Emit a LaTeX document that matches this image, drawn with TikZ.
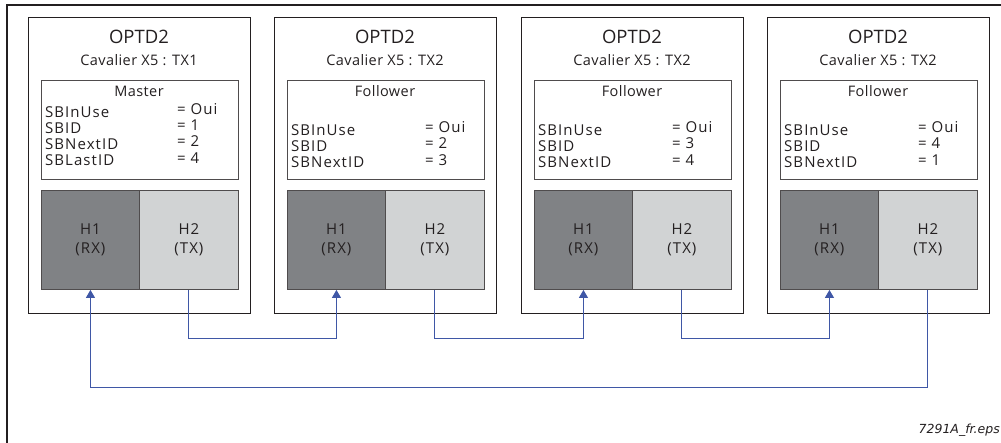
\documentclass[tikz,border=0pt]{standalone}
\usepackage{fontspec}
\setmainfont{Open Sans}
\newfontfamily\bodyfont{Open Sans}[LetterSpace=3]
\newfontfamily\keyfont{Open Sans}[LetterSpace=7]
\newfontfamily\capfont{DejaVu Sans}
\usetikzlibrary{arrows.meta}
\definecolor{frameblk}{HTML}{231F20}
\definecolor{darkg}{HTML}{808285}
\definecolor{lightg}{HTML}{D1D3D4}
\definecolor{linkblue}{HTML}{3F57A6}
\definecolor{txtg}{HTML}{231F20}
\tikzset{
  modbox/.style={draw=frameblk,line width=1.3pt,anchor=north west,minimum width=222pt,minimum height=296pt,inner sep=0pt},
  regbox/.style={draw=frameblk!80,line width=0.8pt,anchor=north west,minimum width=197pt,minimum height=99pt,inner sep=0pt},
  hdark/.style={draw=frameblk!80,fill=darkg,line width=0.9pt,anchor=north west,minimum width=98pt,minimum height=99pt,inner sep=0pt,align=center,font=\keyfont\fontsize{15}{19}\selectfont,text=txtg},
  hlight/.style={draw=frameblk!80,fill=lightg,line width=0.9pt,anchor=north west,minimum width=99pt,minimum height=99pt,inner sep=0pt,align=center,font=\keyfont\fontsize{15}{19}\selectfont,text=txtg},
  titletxt/.style={font=\fontsize{18.5}{20}\selectfont,text=txtg,inner sep=0pt},
  subtxt/.style={font=\bodyfont\fontsize{14.5}{16}\selectfont,text=txtg,inner sep=0pt},
  roletxt/.style={font=\bodyfont\fontsize{14.5}{16}\selectfont,text=txtg,inner sep=0pt},
  keytxt/.style={font=\keyfont\fontsize{15}{16}\selectfont,text=txtg,inner sep=0pt,anchor=west},
  link/.style={draw=linkblue,line width=1pt},
  linkarrow/.style={link,-{Triangle[width=9pt,length=8pt]}},
}
\begin{document}
\begin{tikzpicture}[x=1pt,y=-1pt]
\useasboundingbox (0,0) rectangle (1001,443);
% outer partial frame
\coordinate (ftr) at (1001,5);
\coordinate (ftl) at (7,5);
\coordinate (fbl) at (7,443);
\draw[frameblk,line width=1.3pt] (ftr) -- (ftl) -- (fbl);
% modules
\foreach \i/\L/\tx/\role in {1/28/TX1/Master,2/274/TX2/Follower,3/521/TX2/Follower,4/767/TX2/Follower}{
  \node[modbox] (m\i) at (\L,17) {};
  \node[titletxt] (t\i) at (\L+111,37) {OPTD2};
  \node[subtxt] (s\i) at (\L+111,60) {Cavalier X5 : \tx};
  \node[regbox] (r\i) at (\L+13,80) {};
  \node[roletxt] (ro\i) at (\L+111,91) {\role};
  \node[hdark] (ha\i) at (\L+13,190) {H1\\(RX)};
  \node[hlight] (hb\i) at (\L+111,190) {H2\\(TX)};
}
% master values
\node[keytxt] (k1a) at (45,112) {SBInUse};
\node[keytxt] (k1b) at (45,128) {SBID};
\node[keytxt] (k1c) at (45,144) {SBNextID};
\node[keytxt] (k1d) at (45,160) {SBLastID};
\node[keytxt] (v1a) at (177,109) {= Oui};
\node[keytxt] (v1b) at (177,125) {= 1};
\node[keytxt] (v1c) at (177,141) {= 2};
\node[keytxt] (v1d) at (177,158) {= 4};
% followers
\foreach \i/\L/\id/\nx in {2/274/2/3,3/521/3/4,4/767/4/1}{
  \node[keytxt] (k\i a) at (\L+17,130) {SBInUse};
  \node[keytxt] (k\i b) at (\L+17,146) {SBID};
  \node[keytxt] (k\i c) at (\L+17,162) {SBNextID};
  \node[keytxt] (v\i a) at (\L+151,127) {= Oui};
  \node[keytxt] (v\i b) at (\L+151,143) {= \id};
  \node[keytxt] (v\i c) at (\L+151,160) {= \nx};
}
% connectors
\draw[linkarrow] (hb1.south) -- ++(0,49) -| (ha2.south);
\draw[linkarrow] (hb2.south) -- ++(0,49) -| (ha3.south);
\draw[linkarrow] (hb3.south) -- ++(0,49) -| (ha4.south);
\draw[linkarrow] (hb4.south) -- ++(0,98) -| (ha1.south);
% caption
\node[font=\capfont\itshape\fontsize{12.5}{14}\selectfont,text=txtg,anchor=east,inner sep=0pt] (cap) at (1000,430) {7291A\_fr.eps};
\end{tikzpicture}
\end{document}
